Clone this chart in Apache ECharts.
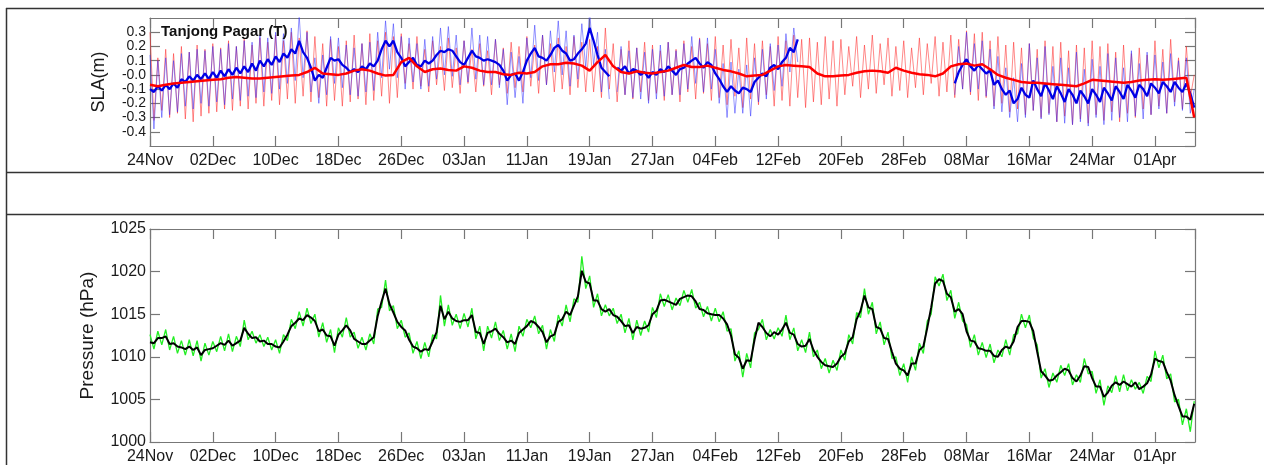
<!DOCTYPE html>
<html>
<head>
<meta charset="utf-8">
<script src="https://cdn.jsdelivr.net/npm/echarts@6/dist/echarts.min.js"></script>
<style>
html,body{margin:0;padding:0;background:#fff;}
#c{width:1264px;height:465px;}
</style>
</head>
<body>
<div id="c"></div>
<script>
// ---------------- DATA ----------------
// x in days since 24 Nov; tick every 8 days
const dateTickLabels = ['24Nov','02Dec','10Dec','18Dec','26Dec','03Jan','11Jan','19Jan','27Jan','04Feb','12Feb','20Feb','28Feb','08Mar','16Mar','24Mar','01Apr'];
const slaTickLabels = {'-0.4':'-0.4','-0.3':'-0.3','-0.2':'-0.2','-0.1':'-0.1','0.0':'-0.0','0.1':'0.1','0.2':'0.2','0.3':'0.3'};
const pressureTickLabels = ['1000','1005','1010','1015','1020','1025'];

const halfDay = 0.5;
const oneDay = 1;

// Thin red SLA (12-hourly, day 0 .. 133)
const slaRedThin = [
 0.30,-0.32, 0.12,-0.25, 0.18,-0.30, 0.15,-0.27, 0.20,-0.31, 0.16,-0.33, 0.21,-0.29, 0.18,-0.27,
 0.22,-0.26, 0.19,-0.24, 0.24,-0.25, 0.20,-0.22, 0.25,-0.24, 0.21,-0.20, 0.26,-0.22, 0.23,-0.18,
 0.28,-0.21, 0.24,-0.17, 0.30,-0.20, 0.26,-0.15, 0.31,-0.19, 0.27,-0.16, 0.22,-0.22, 0.25,-0.18,
 0.20,-0.22, 0.24,-0.19, 0.28,-0.17, 0.22,-0.21, 0.29,-0.18, 0.24,-0.15, 0.30,-0.20, 0.27,-0.16,
 0.29,-0.06, 0.22,-0.10, 0.27,-0.08, 0.18,-0.12, 0.24,-0.07, 0.20,-0.11, 0.26,-0.09, 0.19,-0.13,
 0.24,-0.06, 0.18,-0.12, 0.22,-0.08, 0.17,-0.14, 0.25,-0.07, 0.19,-0.13, 0.23,-0.09, 0.20,-0.12,
 0.27,-0.08, 0.21,-0.13, 0.28,-0.07, 0.22,-0.12, 0.26,-0.10, 0.20,-0.14, 0.27,-0.09, 0.23,-0.12,
 0.25,-0.12, 0.20,-0.16, 0.33,-0.10, 0.22,-0.19, 0.18,-0.14, 0.24,-0.17, 0.19,-0.12, 0.23,-0.18,
 0.21,-0.13, 0.17,-0.18, 0.23,-0.14, 0.18,-0.19, 0.24,-0.12, 0.20,-0.17, 0.26,-0.13, 0.22,-0.18,
 0.27,-0.16, 0.21,-0.21, 0.25,-0.15, 0.19,-0.23, 0.26,-0.17, 0.22,-0.21, 0.24,-0.14, 0.20,-0.22,
 0.27,-0.18, 0.24,-0.22, 0.28,-0.16, 0.25,-0.23, 0.26,-0.19, 0.23,-0.21, 0.27,-0.17, 0.24,-0.22,
 0.25,-0.14, 0.20,-0.08, 0.27,-0.16, 0.21,-0.10, 0.28,-0.13, 0.22,-0.07, 0.26,-0.15, 0.20,-0.11,
 0.24,-0.16, 0.19,-0.09, 0.26,-0.14, 0.22,-0.06, 0.27,-0.15, 0.23,-0.12, 0.28,-0.16, 0.25,-0.10,
 0.31,-0.14, 0.29,-0.18, 0.30,-0.16, 0.24,-0.22, 0.27,-0.20, 0.21,-0.26, 0.23,-0.24, 0.19,-0.28,
 0.22,-0.25, 0.18,-0.30, 0.24,-0.27, 0.20,-0.33, 0.23,-0.29, 0.17,-0.35, 0.21,-0.31, 0.19,-0.34,
 0.24,-0.28, 0.20,-0.32, 0.22,-0.26, 0.16,-0.33, 0.21,-0.27, 0.15,-0.30, 0.19,-0.24, 0.14,-0.28,
 0.24,-0.22, 0.18,-0.27, 0.25,-0.19, 0.12,-0.24, 0.20,-0.16,
 0.00
];

// Thick red SLA (daily, day 0 .. 133)
const slaRedThick = [
 -0.07,-0.08,-0.07,-0.06,-0.055,-0.05,-0.045,-0.04,
 -0.035,-0.03,-0.02,-0.015,-0.02,-0.025,-0.025,-0.02,
 -0.015,-0.01,-0.005,0.0,0.02,0.05,0.01,0.005,
 0.0,0.01,0.03,0.04,0.03,0.01,-0.005,0.0,
 0.09,0.12,0.06,0.02,0.04,0.045,0.035,0.03,
 0.06,0.05,0.03,0.02,0.02,0.005,0.0,0.015,
 0.01,0.02,0.06,0.075,0.075,0.085,0.08,0.065,
 0.03,0.09,0.14,0.06,0.02,0.01,0.025,0.015,
 0.01,0.02,0.03,0.05,0.07,0.055,0.055,0.065,
 0.05,0.035,0.025,0.01,-0.01,-0.005,0.0,0.03,
 0.06,0.07,0.065,0.06,0.055,0.01,-0.01,-0.01,
 -0.005,0.0,0.015,0.025,0.03,0.025,0.015,0.05,
 0.03,0.015,0.005,0.0,-0.01,0.01,0.06,0.075,
 0.08,0.065,0.075,0.04,0.0,-0.02,-0.035,-0.05,
 -0.055,-0.055,-0.06,-0.065,-0.07,-0.075,-0.08,-0.06,
 -0.035,-0.04,-0.045,-0.05,-0.055,-0.05,-0.04,-0.035,
 -0.03,-0.035,-0.03,-0.025,-0.02,-0.30
];

// Observed (blue) SLA, three segments, 12-hourly; segment start days
const blueSegStartDays = [0, 59.5, 102.5];
const slaBlueThinA = [
 0.14,-0.38, 0.10,-0.30, 0.12,-0.28, 0.10,-0.26, 0.15,-0.22, 0.16,-0.24, 0.18,-0.20, 0.17,-0.22,
 0.20,-0.19, 0.18,-0.21, 0.22,-0.17, 0.20,-0.18, 0.24,-0.15, 0.23,-0.16, 0.28,-0.12, 0.26,-0.13,
 0.30,-0.10, 0.29,-0.06, 0.33,-0.04, 0.42,-0.02, 0.30,-0.12, 0.12,-0.20, 0.14,-0.14, 0.27,-0.06,
 0.26,-0.09, 0.21,-0.14, 0.19,-0.15, 0.22,-0.12, 0.23,-0.11, 0.30,-0.02, 0.38,0.04, 0.36,-0.02,
 0.27,-0.10, 0.26,-0.05, 0.22,-0.10, 0.25,-0.08, 0.27,-0.03, 0.33,0.00, 0.34,-0.01, 0.28,-0.07,
 0.24,-0.05, 0.33,-0.03, 0.28,-0.07, 0.27,-0.07, 0.25,-0.09, 0.18,-0.21, 0.16,-0.16, 0.13,-0.20,
 0.26,-0.02, 0.35,-0.04, 0.28,-0.07, 0.31,0.02, 0.38,0.00, 0.31,-0.08, 0.28,-0.03, 0.36,0.05,
 0.45,0.07, 0.30,-0.12, 0.18,-0.17
];
const slaBlueThinB = [
 -0.12,
 0.20,-0.14, 0.17,-0.16, 0.19,-0.17, 0.16,-0.20, 0.18,-0.17, 0.21,-0.15, 0.23,-0.14, 0.17,-0.14,
 0.22,-0.10, 0.27,-0.06, 0.25,-0.12, 0.26,-0.10, 0.18,-0.20, 0.08,-0.30, 0.09,-0.27, 0.04,-0.27,
 0.07,-0.29, 0.12,-0.19, 0.18,-0.17, 0.22,-0.11, 0.21,-0.08, 0.29,0.02, 0.33,0.09
];
const slaBlueThinC = [
 -0.14,
 0.20,-0.10, 0.30,-0.12, 0.22,-0.10, 0.24,-0.15, 0.18,-0.24, 0.13,-0.26, 0.05,-0.30, -0.02,-0.33,
 0.08,-0.30, 0.22,-0.25, 0.12,-0.31, 0.20,-0.28, 0.06,-0.33, 0.12,-0.34, 0.05,-0.35, 0.16,-0.33,
 0.04,-0.36, 0.11,-0.30, 0.06,-0.35, 0.15,-0.32, 0.12,-0.30, 0.05,-0.33, 0.17,-0.29, 0.08,-0.31,
 0.16,-0.28, 0.14,-0.24, 0.09,-0.27, 0.15,-0.22, 0.10,-0.25, 0.12,-0.27,
 -0.10
];
const slaBlueThickA = [
 -0.10,-0.12,-0.08,-0.11,-0.07,-0.10,-0.06,-0.09,
 -0.03,-0.05,-0.01,-0.04,0.00,-0.03,0.01,-0.03,
 0.02,-0.02,0.03,-0.01,0.04,0.00,0.05,0.01,
 0.06,0.02,0.08,0.03,0.10,0.06,0.11,0.07,
 0.13,0.09,0.15,0.12,0.18,0.15,0.24,0.16,
 0.12,0.05,-0.04,0.00,-0.02,0.05,0.12,0.10,
 0.11,0.07,0.05,0.02,0.04,0.02,0.06,0.04,
 0.08,0.06,0.10,0.18,0.24,0.20,0.24,0.16,
 0.12,0.06,0.09,0.12,0.07,0.06,0.10,0.08,
 0.10,0.14,0.17,0.16,0.18,0.17,0.13,0.09,
 0.07,0.12,0.17,0.13,0.12,0.10,0.11,0.10,
 0.09,0.07,0.03,-0.04,0.00,0.01,-0.04,0.02,
 0.10,0.15,0.19,0.13,0.12,0.10,0.14,0.19,
 0.21,0.17,0.15,0.10,0.11,0.15,0.18,0.22,
 0.33,0.24,0.14,0.05,0.02,-0.01
];
const slaBlueThickB = [
 0.05,
 0.03,0.06,0.01,0.04,0.03,0.00,0.02,-0.02,
 0.02,0.00,0.04,0.02,0.06,0.03,0.00,0.04,
 0.05,0.08,0.10,0.12,0.08,0.05,0.09,0.07,
 0.01,-0.03,-0.08,-0.12,-0.08,-0.11,-0.13,-0.09,
 -0.10,-0.12,-0.05,-0.02,0.01,-0.01,0.05,0.07,
 0.04,0.09,0.12,0.19,0.16,0.25
];
const slaBlueThickC = [
 -0.06,
 0.02,0.07,0.11,0.06,0.03,0.07,0.04,0.01,
 0.03,-0.07,-0.04,-0.10,-0.14,-0.11,-0.20,-0.17,
 -0.09,-0.14,-0.16,-0.04,-0.10,-0.15,-0.06,-0.11,
 -0.17,-0.08,-0.13,-0.19,-0.10,-0.14,-0.20,-0.11,
 -0.15,-0.20,-0.10,-0.14,-0.19,-0.09,-0.13,-0.18,
 -0.08,-0.12,-0.17,-0.07,-0.11,-0.16,-0.07,-0.10,
 -0.15,-0.06,-0.09,-0.13,-0.05,-0.08,-0.12,-0.05,
 -0.09,-0.12,-0.06,-0.13,
 -0.23
];

// Pressure (hPa), 12-hourly, day 0 .. 133
const pressureSmooth = [
 1011.7,1011.6,1012.2,1012.2,1012.4,1011.5,1011.6,1011.2,1011.1,1010.9,1011.2,1010.8,1011.1,1010.2,1010.8,1010.9,
 1011.0,1011.3,1011.6,1011.4,1011.9,1011.3,1011.6,1011.9,1013.4,1012.7,1012.2,1012.3,1011.8,1011.9,1011.5,1011.5,
 1011.2,1011.1,1011.8,1012.6,1013.6,1014.0,1014.5,1014.3,1014.9,1014.6,1014.2,1013.0,1013.2,1012.5,1012.4,1011.3,
 1012.6,1013.1,1013.7,1013.1,1012.1,1011.8,1011.5,1011.5,1011.9,1012.3,1014.8,1016.5,1018.0,1016.2,1015.2,1014.1,
 1013.5,1013.1,1012.0,1011.2,1011.0,1010.6,1010.9,1010.8,1011.8,1012.9,1016.0,1014.4,1015.3,1014.5,1014.2,1014.1,
 1014.3,1014.3,1014.9,1012.9,1012.8,1011.5,1012.8,1013.0,1013.3,1012.7,1012.3,1011.7,1011.9,1011.5,1012.8,1013.2,
 1013.6,1014.2,1014.0,1013.5,1012.9,1011.7,1012.4,1012.6,1014.1,1014.4,1015.3,1014.9,1016.0,1017.1,1020.1,1018.8,
 1018.6,1016.6,1016.6,1015.6,1015.3,1015.6,1014.9,1014.7,1014.2,1013.6,1013.7,1012.8,1013.5,1013.3,1013.4,1013.7,
 1015.0,1015.4,1016.6,1016.7,1016.5,1016.3,1016.1,1016.8,1017.0,1017.2,1017.1,1016.5,1015.6,1015.5,1015.1,1015.0,
 1014.9,1014.9,1014.5,1013.8,1012.5,1010.3,1009.9,1008.6,1009.6,1009.5,1012.0,1014.0,1013.5,1012.8,1012.4,1012.9,
 1012.6,1013.2,1014.0,1012.8,1012.6,1011.5,1011.2,1011.3,1012.1,1010.8,1010.0,1009.4,1009.0,1008.9,1008.8,1009.2,
 1010.0,1010.4,1011.8,1012.3,1014.4,1015.4,1017.2,1015.8,1015.6,1013.5,1013.3,1012.2,1012.1,1010.6,1009.2,1008.6,
 1008.4,1007.8,1009.2,1009.2,1010.8,1011.2,1013.4,1015.8,1018.6,1019.1,1018.9,1017.4,1017.0,1015.3,1015.6,1015.0,
 1013.0,1011.9,1011.8,1011.0,1010.9,1010.7,1010.7,1010.1,1010.0,1010.8,1011.2,1011.0,1011.8,1013.5,1014.2,1014.2,
 1014.1,1013.0,1010.6,1008.3,1007.8,1007.2,1007.3,1007.8,1008.2,1008.6,1008.4,1007.5,1007.1,1007.8,1008.9,1008.8,
 1007.5,1006.5,1006.5,1005.3,1005.8,1006.6,1007.0,1006.7,1007.1,1006.8,1006.5,1007.0,1006.2,1006.5,1006.9,1007.9,
 1009.8,1009.5,1009.4,1008.2,1007.2,1005.5,1004.2,1003.0,1003.0,1002.6,
 1004.5
];
const pressureRaw = [
 1012.6,1010.9,1013.0,1011.4,1013.2,1010.8,1012.4,1010.4,1011.9,1010.2,1012.0,1010.1,1011.9,1009.5,1011.6,1010.2,
 1011.8,1010.6,1012.4,1010.7,1012.7,1010.6,1012.4,1011.2,1014.3,1012.0,1013.0,1011.6,1012.6,1011.2,1012.3,1010.8,
 1012.0,1010.4,1012.6,1011.9,1014.4,1013.3,1015.3,1013.6,1015.7,1013.9,1015.0,1012.3,1014.0,1011.7,1013.2,1010.5,
 1013.4,1012.3,1014.6,1012.3,1012.9,1011.0,1012.3,1010.8,1012.7,1011.5,1015.6,1015.8,1019.0,1015.4,1016.0,1013.3,
 1014.3,1012.3,1012.8,1010.4,1011.8,1009.8,1011.7,1010.0,1012.6,1012.1,1017.2,1013.6,1016.1,1013.7,1015.0,1013.3,
 1015.1,1013.5,1015.7,1012.1,1013.6,1010.7,1013.6,1012.2,1014.1,1011.9,1013.1,1010.9,1012.7,1010.6,1013.6,1012.4,
 1014.4,1013.4,1014.8,1012.7,1013.7,1010.9,1013.2,1011.8,1014.9,1013.6,1016.1,1014.1,1016.8,1016.4,1021.8,1018.0,
 1019.5,1015.8,1017.4,1014.8,1016.1,1014.8,1015.7,1013.9,1015.0,1012.8,1014.5,1012.0,1014.3,1012.5,1014.2,1012.9,
 1015.8,1014.6,1017.4,1015.9,1017.3,1015.5,1016.9,1016.0,1017.8,1016.4,1017.9,1015.7,1016.4,1014.7,1015.9,1014.2,
 1015.7,1014.1,1015.3,1013.0,1013.3,1009.5,1010.7,1007.6,1010.4,1008.7,1012.8,1013.2,1014.4,1012.0,1013.2,1012.1,
 1013.4,1012.4,1014.9,1012.0,1013.4,1010.7,1012.0,1010.5,1012.9,1010.0,1010.8,1008.6,1009.8,1008.1,1009.6,1008.4,
 1010.8,1009.6,1012.6,1011.5,1015.2,1014.6,1018.0,1015.0,1016.4,1012.7,1014.1,1011.4,1012.9,1009.8,1010.0,1007.8,
 1009.2,1007.0,1010.0,1008.4,1011.6,1010.4,1014.2,1015.0,1019.4,1018.3,1019.7,1016.6,1017.8,1014.5,1016.4,1014.2,
 1013.8,1011.1,1012.6,1010.2,1011.7,1009.9,1011.5,1009.3,1010.8,1010.0,1012.0,1010.2,1012.6,1012.7,1015.0,1013.4,
 1014.9,1012.2,1011.4,1007.5,1008.6,1006.4,1008.1,1007.0,1009.0,1007.8,1009.2,1006.7,1007.9,1007.0,1009.8,1008.0,
 1008.3,1005.7,1007.3,1004.3,1006.6,1005.8,1007.8,1005.9,1007.9,1006.0,1007.3,1006.2,1007.0,1005.7,1007.7,1007.1,
 1010.7,1008.7,1010.2,1007.4,1008.0,1004.7,1005.0,1002.0,1003.9,1001.2,
 1004.8
];

// ---------------- CHART ----------------
function toPoints(values, startDay, stepDays) {
  return values.map((v, i) => [startDay + i * stepDays, v]);
}
const X_MAX = 133.1;
const FONT = '"Liberation Sans", Arial, sans-serif';
const frameColor = '#777777';

function dateFmt(v) {
  const k = Math.round(v / 8);
  if (Math.abs(v - k * 8) < 1e-6 && dateTickLabels[k] !== undefined) return dateTickLabels[k];
  return '';
}
function slaFmt(v) {
  const key = (Math.abs(v) < 1e-9 ? 0 : v).toFixed(1);
  return slaTickLabels[key] !== undefined ? slaTickLabels[key] : '';
}
function presFmt(v) {
  const s = String(Math.round(v));
  return pressureTickLabels.indexOf(s) >= 0 ? s : '';
}

function xAxisDef(gridIndex, position, showLabel) {
  return {
    type: 'value', gridIndex, position, min: 0, max: X_MAX, interval: 8,
    axisLine: { show: true, onZero: false, lineStyle: { color: frameColor, width: 1.2 } },
    axisTick: { show: true, inside: true, length: 10, lineStyle: { color: frameColor, width: 1.2 } },
    axisLabel: { show: showLabel, formatter: dateFmt, color: '#1a1a1a', fontSize: 16, fontFamily: FONT, margin: 7, showMaxLabel: false },
    splitLine: { show: false }
  };
}
function yAxisDef(gridIndex, position, min, max, interval, fmt, showLabel, name, nameGap, hideEnds, labelSize, nameSize) {
  return {
    type: 'value', gridIndex, position, min, max, interval,
    name: name || '', nameLocation: 'middle', nameGap: nameGap || 0, nameRotate: 90,
    nameTextStyle: { fontSize: nameSize || 18, fontFamily: FONT, color: '#1a1a1a' },
    axisLine: { show: true, onZero: false, lineStyle: { color: frameColor, width: 1.2 } },
    axisTick: { show: true, inside: true, length: 10, lineStyle: { color: frameColor, width: 1.2 } },
    axisLabel: { show: showLabel, formatter: fmt, color: '#1a1a1a', fontSize: labelSize || 14, fontFamily: FONT, margin: 4,
                 showMinLabel: !hideEnds, showMaxLabel: !hideEnds },
    splitLine: { show: false }
  };
}

const line = (name, data, xIdx, yIdx, color, width, opacity, z) => ({
  name, type: 'line', data, xAxisIndex: xIdx, yAxisIndex: yIdx, showSymbol: false, symbol: 'none',
  lineStyle: { color, width, opacity }, itemStyle: { color }, z, silent: true, animation: false
});

const series = [
  line('SLA thin red', toPoints(slaRedThin, 0, halfDay), 0, 0, '#ff2a2a', 1, 0.55, 2),
  line('SLA thin blue A', toPoints(slaBlueThinA, blueSegStartDays[0], halfDay), 0, 0, '#2a2aff', 1, 0.5, 3),
  line('SLA thin blue B', toPoints(slaBlueThinB, blueSegStartDays[1], halfDay), 0, 0, '#2a2aff', 1, 0.5, 3),
  line('SLA thin blue C', toPoints(slaBlueThinC, blueSegStartDays[2], halfDay), 0, 0, '#2a2aff', 1, 0.5, 3),
  line('SLA thick blue A', toPoints(slaBlueThickA, blueSegStartDays[0], halfDay), 0, 0, '#0000e6', 2.3, 1, 4),
  line('SLA thick blue B', toPoints(slaBlueThickB, blueSegStartDays[1], halfDay), 0, 0, '#0000e6', 2.3, 1, 4),
  line('SLA thick blue C', toPoints(slaBlueThickC, blueSegStartDays[2], halfDay), 0, 0, '#0000e6', 2.3, 1, 4),
  line('SLA thick red', toPoints(slaRedThick, 0, oneDay), 0, 0, '#ff0000', 2.5, 1, 5),
  line('Pressure raw', toPoints(pressureRaw, 0, halfDay), 2, 2, '#22ee22', 1.3, 1, 2),
  line('Pressure smooth', toPoints(pressureSmooth, 0, halfDay), 2, 2, '#000000', 2, 1, 3)
];

const chart = echarts.init(document.getElementById('c'), null, { renderer: 'canvas' });
chart.setOption({
  animation: false,
  backgroundColor: '#ffffff',
  title: {
    text: 'Tanjong Pagar (T)', left: 161, top: 24, padding: 0,
    textStyle: { fontSize: 15, fontWeight: 'bold', fontFamily: FONT, color: '#111' }
  },
  grid: [
    { left: 150, right: 69, top: 18, height: 128, containLabel: false },
    { left: 150, right: 69, top: 229, height: 213, containLabel: false }
  ],
  xAxis: [
    xAxisDef(0, 'bottom', true),
    xAxisDef(0, 'top', false),
    xAxisDef(1, 'bottom', true),
    xAxisDef(1, 'top', false)
  ],
  yAxis: [
    yAxisDef(0, 'left', -0.5, 0.4, 0.1, slaFmt, true, 'SLA(m)', 42, true, 14, 18),
    yAxisDef(0, 'right', -0.5, 0.4, 0.1, slaFmt, false),
    yAxisDef(1, 'left', 1000, 1025, 5, presFmt, true, 'Pressure (hPa)', 53, false, 16, 19),
    yAxisDef(1, 'right', 1000, 1025, 5, presFmt, false)
  ],
  graphic: [
    { type: 'line', shape: { x1: 6, y1: 8.5, x2: 1264, y2: 8.5 }, style: { stroke: '#333', lineWidth: 1.5 }, silent: true },
    { type: 'line', shape: { x1: 6, y1: 172.5, x2: 1264, y2: 172.5 }, style: { stroke: '#333', lineWidth: 1.5 }, silent: true },
    { type: 'line', shape: { x1: 6, y1: 214.5, x2: 1264, y2: 214.5 }, style: { stroke: '#333', lineWidth: 1.5 }, silent: true },
    { type: 'line', shape: { x1: 6.5, y1: 8, x2: 6.5, y2: 465 }, style: { stroke: '#333', lineWidth: 1.5 }, silent: true }
  ],
  series
});
</script>
</body>
</html>
